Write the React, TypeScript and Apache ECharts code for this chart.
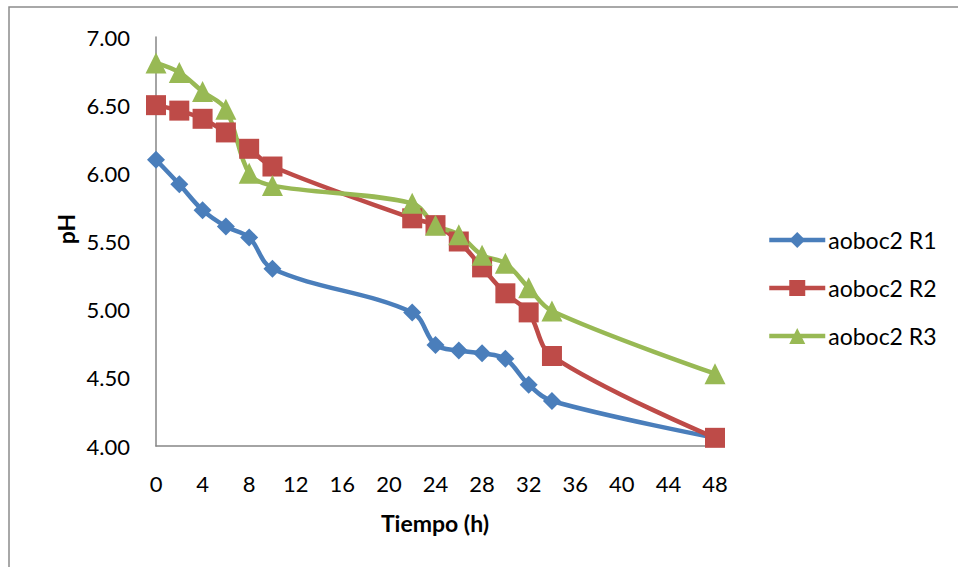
import React, { useEffect, useRef } from "react";
import * as echarts from "echarts";

const hours = [0, 2, 4, 6, 8, 10, 22, 24, 26, 28, 30, 32, 34, 48];
const r1 = [6.1, 5.92, 5.73, 5.61, 5.53, 5.3, 4.98, 4.74, 4.7, 4.68, 4.64, 4.45, 4.33, 4.06];
const r2 = [6.5, 6.46, 6.4, 6.3, 6.18, 6.05, 5.67, 5.62, 5.5, 5.31, 5.12, 4.98, 4.66, 4.06];
const r3 = [6.81, 6.74, 6.6, 6.47, 6.0, 5.91, 5.78, 5.62, 5.55, 5.4, 5.34, 5.16, 4.99, 4.53];
const seriesNames = ["aoboc2 R1", "aoboc2 R2", "aoboc2 R3"];
const colors = ["#4A7EBB", "#BE4B48", "#98B954"];
const symbols = ["diamond", "rect", "triangle"];
const symbolSizes = [18, 20, 21];
const xTitle = "Tiempo (h)";
const yTitle = "pH";

const FONT = "Lato, 'Open Sans', sans-serif";

export default function App() {
  const ref = useRef<HTMLDivElement>(null);
  useEffect(() => {
    if (!ref.current) return;
    const chart = echarts.init(ref.current, undefined, { renderer: "svg" });
    const all = [r1, r2, r3];
    chart.setOption({
      animation: false,
      backgroundColor: "#ffffff",
      textStyle: { fontFamily: FONT },
      grid: { left: 156, right: 243, top: 37, bottom: 121 },
      xAxis: {
        type: "value",
        min: 0,
        max: 48,
        interval: 4,
        axisLine: { show: true, lineStyle: { color: "#868686", width: 1.5 } },
        axisTick: { show: false },
        splitLine: { show: false },
        axisLabel: { color: "#000", fontSize: 22, margin: 26, fontFamily: FONT },
      },
      yAxis: {
        type: "value",
        min: 4,
        max: 7,
        interval: 0.5,
        axisLine: { show: true, lineStyle: { color: "#868686", width: 1.5 } },
        axisTick: { show: false },
        splitLine: { show: false },
        axisLabel: {
          color: "#000",
          fontSize: 22,
          margin: 26,
          fontFamily: FONT,
          formatter: (v: number) => v.toFixed(2),
        },
      },
      legend: {
        orient: "vertical",
        left: 767,
        top: 228,
        padding: 0,
        itemWidth: 56,
        itemHeight: 20,
        itemGap: 24,
        lineStyle: { width: 4.5 },
        textStyle: { color: "#000", fontSize: 23, lineHeight: 24, fontFamily: FONT, padding: [0, 0, 0, -2] },
        data: seriesNames,
      },
      graphic: [
        {
          type: "rect",
          shape: { x: 9, y: 7, width: 1000, height: 600 },
          style: { fill: "none", stroke: "#8c8c8c", lineWidth: 1.5 },
          silent: true,
          z: -10,
        },
        {
          type: "text",
          x: 66,
          y: 229,
          rotation: Math.PI / 2,
          style: {
            text: yTitle,
            fontSize: 23,
            fontWeight: "bold",
            fontFamily: FONT,
            fill: "#000",
            align: "center",
            verticalAlign: "middle",
          },
        },
        {
          type: "text",
          x: 435,
          y: 523,
          style: {
            text: xTitle,
            fontSize: 23,
            fontWeight: "bold",
            fontFamily: FONT,
            fill: "#000",
            align: "center",
            verticalAlign: "middle",
          },
        },
      ],
      series: all.map((vals, i) => ({
        name: seriesNames[i],
        type: "line",
        smooth: 0.35,
        data: hours.map((h, j) => [h, vals[j]]),
        symbol: symbols[i],
        symbolSize: symbolSizes[i],
        showAllSymbol: true,
        itemStyle: { color: colors[i] },
        lineStyle: { color: colors[i], width: 4.5 },
      })),
    });
    return () => chart.dispose();
  }, []);
  return <div ref={ref} style={{ width: 958, height: 567, position: "absolute", left: 0, top: 0 }} />;
}
